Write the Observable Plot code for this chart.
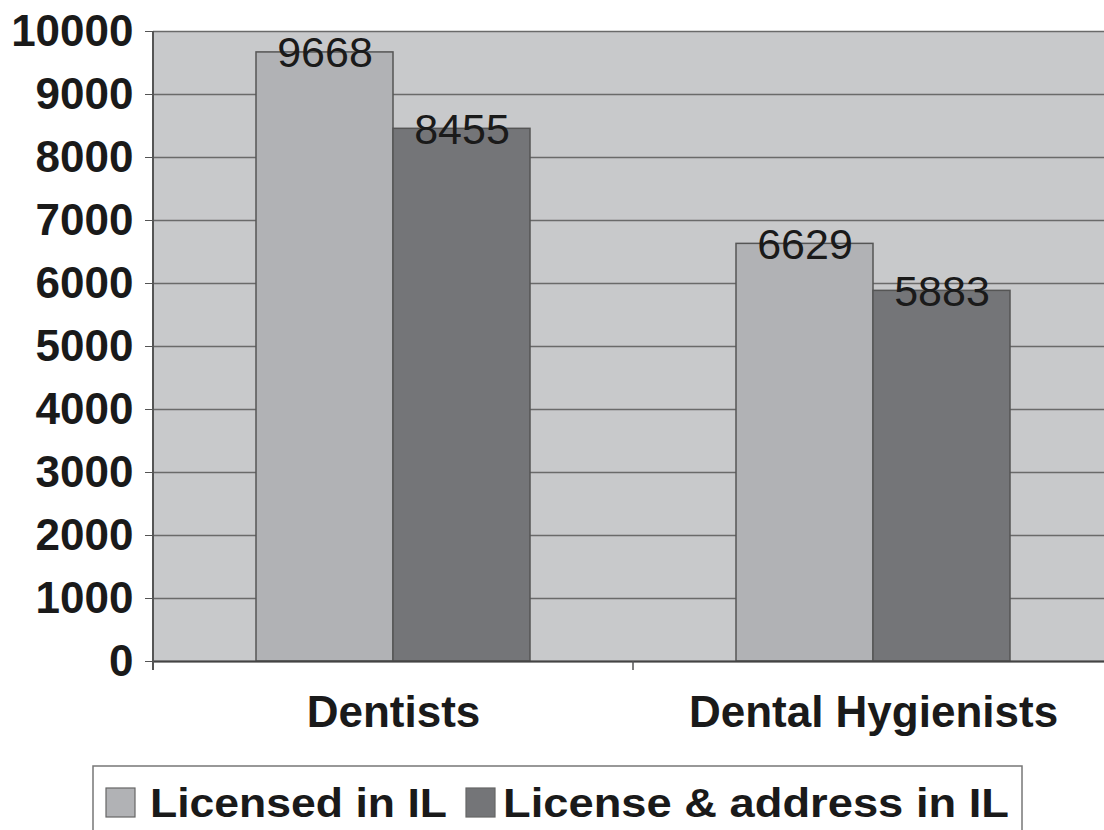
<!DOCTYPE html>
<html><head><meta charset="utf-8">
<script src="https://cdn.jsdelivr.net/npm/d3@7"></script>
<script src="https://cdn.jsdelivr.net/npm/@observablehq/plot@0.6"></script>
<style>
html,body{margin:0;padding:0;background:#fff;overflow:hidden;}
#wrap{position:relative;width:1104px;height:830px;}
#chart svg{display:block;overflow:hidden;}
#legend{position:absolute;left:0;top:760px;}
</style></head><body><div id="wrap"><div id="chart"></div><svg id="legend" width="1104" height="70"></svg></div>
<script>
const categories = ["Dentists", "Dental Hygienists"];
const series = ["Licensed in IL", "License & address in IL"];
const licensedInIL = [9668, 6629];
const licenseAndAddressInIL = [8455, 5883];
const yTicks = [0, 1000, 2000, 3000, 4000, 5000, 6000, 7000, 8000, 9000, 10000];
const colors = ["#b1b2b5", "#747578"];

const data = categories.flatMap((c, i) => [
  {category: c, series: series[0], value: licensedInIL[i]},
  {category: c, series: series[1], value: licenseAndAddressInIL[i]}
]);

const font = "'Liberation Sans', Arial, Helvetica, sans-serif";

const chart = Plot.plot({
  width: 1104, height: 760,
  marginTop: 31, marginBottom: 99, marginLeft: 153, marginRight: -9,
  style: {fontFamily: font, background: "#fff", color: "#1a1a1a", overflow: "hidden"},
  fx: {domain: categories, padding: 0, label: null},
  x: {domain: series, paddingInner: 0, paddingOuter: 0.75, axis: null},
  y: {domain: [0, 10000], axis: null},
  color: {domain: series, range: colors},
  marks: [
    Plot.frame({fill: "#c8c9cb", stroke: "none", insetRight: -1, shapeRendering: "crispEdges"}),
    Plot.ruleY(yTicks, {stroke: "#6a6a6a", strokeWidth: 1.6}),
    Plot.barY(data, {fx: "category", x: "series", y: "value", fill: "series", stroke: "#555", strokeWidth: 1.5}),
    Plot.ruleY([0], {stroke: "#444", strokeWidth: 2.2}),
    Plot.text(data, {fx: "category", x: "series", y: "value", text: d => String(d.value),
      fontSize: 43, fill: "#1a1a1a", lineAnchor: "middle", dy: 1}),
    Plot.axisY({ticks: yTicks, tickSize: 8, tickPadding: 12, fontSize: 44, fontWeight: "bold",
      tickFormat: d => String(d), label: null, stroke: "#555", fill: "#1a1a1a"}),
    Plot.axisFx({anchor: "bottom", tickSize: 0, tickPadding: 34, fontSize: 44, fontWeight: "bold",
      label: null, fill: "#1a1a1a"})
  ]
});
document.getElementById("chart").appendChild(chart);

// left axis line and category boundary ticks, positioned from the chart's own scales
const fx = chart.scale("fx"), y = chart.scale("y");
const svg = d3.select(chart);
const yTop = y.apply(10000), yBot = y.apply(0);
svg.append("line")
  .attr("x1", fx.apply(categories[0])).attr("x2", fx.apply(categories[0]))
  .attr("y1", yTop).attr("y2", yBot + 9)
  .attr("stroke", "#555").attr("stroke-width", 2);
categories.slice(1).forEach(c => {
  svg.append("line")
    .attr("x1", fx.apply(c)).attr("x2", fx.apply(c))
    .attr("y1", yBot).attr("y2", yBot + 9)
    .attr("stroke", "#555").attr("stroke-width", 1.5);
});

// legend
const lg = d3.select("#legend");
lg.append("rect").attr("x", 93).attr("y", 6).attr("width", 929).attr("height", 100)
  .attr("fill", "#fff").attr("stroke", "#777").attr("stroke-width", 1.5);
const items = [
  {sx: 106, tx: 150, tl: 297},
  {sx: 466, tx: 503, tl: 506}
];
series.forEach((s, i) => {
  lg.append("rect").attr("x", items[i].sx).attr("y", 28).attr("width", 29).attr("height", 29)
    .attr("fill", colors[i]).attr("stroke", "#666").attr("stroke-width", 1.2);
  lg.append("text").attr("x", items[i].tx).attr("y", 57)
    .attr("font-family", font).attr("font-weight", "bold").attr("font-size", 41)
    .attr("fill", "#1a1a1a")
    .attr("textLength", items[i].tl).attr("lengthAdjust", "spacingAndGlyphs")
    .text(s);
});
</script></body></html>
